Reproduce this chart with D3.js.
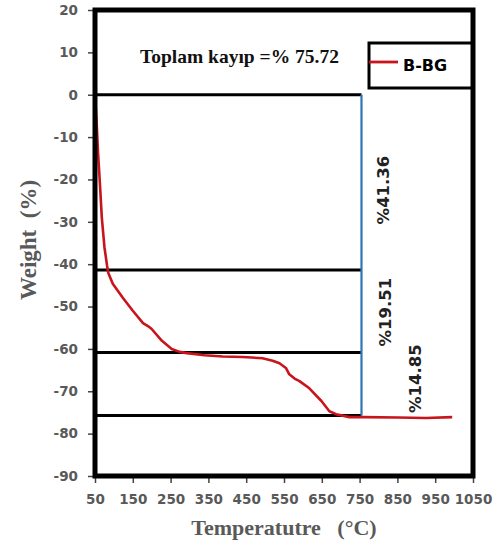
<!DOCTYPE html>
<html>
<head>
<meta charset="utf-8">
<script src="https://cdn.jsdelivr.net/npm/d3@7"></script>
<style>
  html, body { margin: 0; padding: 0; background: #fff; }
  svg { display: block; }
</style>
</head>
<body>
<svg id="chart" width="498" height="550"></svg>
<script>
// ---- data ----
const temperature = [50, 54, 58, 63, 68, 75, 82, 85, 97, 124, 150, 177, 190, 200, 227, 253, 274, 293, 340, 388, 440, 493, 520, 538, 555, 564, 578, 591, 617, 649, 670, 688, 723, 760, 850, 926, 995];
const weight = [0, -6, -13.6, -21, -29, -36, -40.4, -42, -44.6, -48, -51, -53.9, -54.6, -55.3, -58.1, -60, -60.7, -61, -61.5, -61.8, -61.9, -62.2, -62.8, -63.4, -64.5, -66, -67, -67.6, -69.3, -72.3, -74.7, -75.4, -76.1, -76.1, -76.2, -76.3, -76.1];
const xTicks = [50, 150, 250, 350, 450, 550, 650, 750, 850, 950, 1050];
const yTicks = [20, 10, 0, -10, -20, -30, -40, -50, -60, -70, -80, -90];
const stepLevels = [0, -41.36, -60.87, -75.72];
const stepLabels = ["%41.36", "%19.51", "%14.85"];
const seriesName = "B-BG";
const totalLabel = "Toplam kayıp =% 75.72";
const xTitle = "Temperatutre   (°C)";
const yTitle = "Weight  (%)";

(function () {
// ---- layout ----
const svg = d3.select("#chart");
const mLeft = 95, mRight = 473, mTop = 10, mBottom = 476;
const x = d3.scaleLinear().domain([50, 1050]).range([mLeft, mRight]);
const y = d3.scaleLinear().domain([-90, 20]).range([mBottom, mTop]);
const gray = "#595959";
const fmt = d => String(d);

// axes
const yAxis = svg.append("g").attr("transform", `translate(${mLeft},0)`)
  .call(d3.axisLeft(y).tickValues(yTicks).tickFormat(fmt).tickSize(7).tickPadding(10));
const xAxis = svg.append("g").attr("transform", `translate(0,${mBottom})`)
  .call(d3.axisBottom(x).tickValues(xTicks).tickFormat(fmt).tickSize(7).tickPadding(10));
[yAxis, xAxis].forEach(g => {
  g.select(".domain").remove();
  g.selectAll(".tick line").attr("stroke", "#444").attr("stroke-width", 1.5);
  g.selectAll(".tick text")
    .attr("fill", gray)
    .style("font-family", "'DejaVu Sans', sans-serif")
    .style("font-weight", "bold")
    .style("font-size", "13.5px");
});
xAxis.selectAll(".tick text").attr("dy", "0.8em");

// step lines
const lineEnd = 755;
svg.append("g").selectAll("line").data(stepLevels).join("line")
  .attr("x1", x(50)).attr("x2", x(lineEnd))
  .attr("y1", d => y(d)).attr("y2", d => y(d))
  .attr("stroke", "#000").attr("stroke-width", 3);

// blue vertical
svg.append("line")
  .attr("x1", x(lineEnd)).attr("x2", x(lineEnd))
  .attr("y1", y(stepLevels[0])).attr("y2", y(stepLevels[3]))
  .attr("stroke", "#2e75b6").attr("stroke-width", 2.2);

// curve
svg.append("path").datum(weight)
  .attr("d", d3.line().x((d, i) => x(temperature[i])).y(d => y(d)))
  .attr("fill", "none").attr("stroke", "#c8141c").attr("stroke-width", 2.6)
  .attr("stroke-linejoin", "round");

// step labels (rotated)
const labelPos = [
  { t: 812, v: -22.5 },
  { t: 817, v: -51.3 },
  { t: 896, v: -67.0 }
];
svg.append("g").selectAll("text").data(stepLabels).join("text")
  .attr("transform", (d, i) => `translate(${x(labelPos[i].t)},${y(labelPos[i].v)}) rotate(-90)`)
  .attr("text-anchor", "middle").attr("dy", "0.36em")
  .attr("fill", "#222")
  .style("font-family", "'DejaVu Sans', sans-serif")
  .style("font-weight", "bold")
  .style("font-size", "16.5px")
  .text(d => d);

// total label
svg.append("text").attr("x", 140).attr("y", 63)
  .attr("fill", "#111")
  .style("font-family", "'Liberation Serif', 'Times New Roman', serif")
  .style("font-weight", "bold").style("font-size", "19.5px")
  .text(totalLabel);

// legend
svg.append("rect").attr("x", 369).attr("y", 43).attr("width", mRight - 369).attr("height", 45)
  .attr("fill", "#fff").attr("stroke", "#000").attr("stroke-width", 3);
svg.append("line").attr("x1", 369).attr("x2", 398).attr("y1", 62).attr("y2", 62)
  .attr("stroke", "#c8141c").attr("stroke-width", 2.8);
svg.append("text").attr("x", 403).attr("y", 71)
  .attr("fill", "#000")
  .style("font-family", "'DejaVu Sans', sans-serif")
  .style("font-weight", "bold").style("font-size", "16px")
  .text(seriesName);

// frame
svg.append("rect").attr("x", mLeft).attr("y", mTop).attr("width", mRight - mLeft).attr("height", mBottom - mTop)
  .attr("fill", "none").attr("stroke", "#000").attr("stroke-width", 5);

// axis titles
svg.append("text").attr("x", (mLeft + mRight) / 2).attr("y", 535)
  .attr("text-anchor", "middle").attr("fill", gray)
  .style("font-family", "'Liberation Serif', 'Times New Roman', serif")
  .style("font-weight", "bold").style("font-size", "22px")
  .style("white-space", "pre")
  .text(xTitle);
svg.append("text").attr("transform", "translate(36,240) rotate(-90)")
  .attr("text-anchor", "middle").attr("fill", gray)
  .style("font-family", "'Liberation Serif', 'Times New Roman', serif")
  .style("font-weight", "bold").style("font-size", "23px")
  .style("white-space", "pre")
  .text(yTitle);
})();
</script>
</body>
</html>
